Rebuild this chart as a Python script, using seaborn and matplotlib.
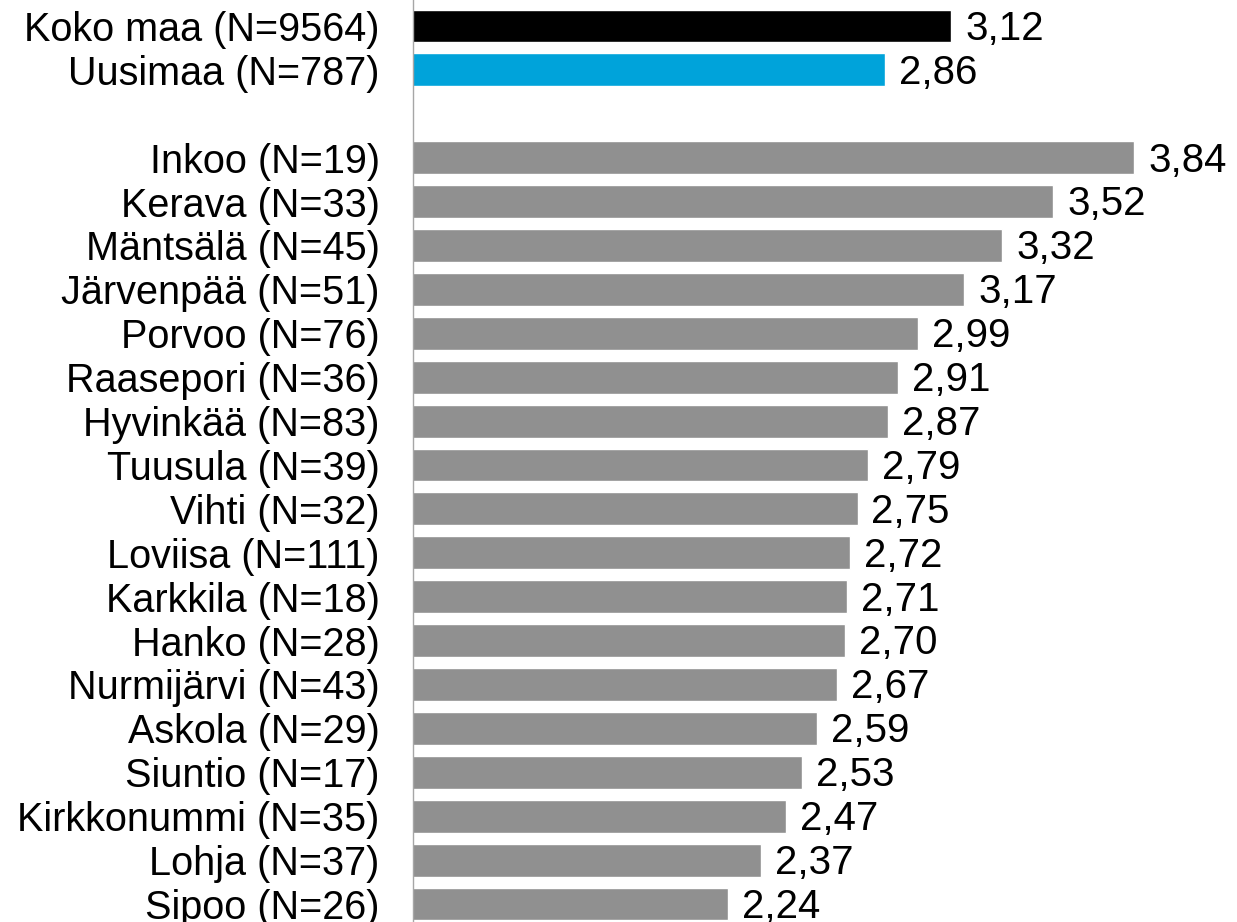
import matplotlib
matplotlib.use("Agg")
import matplotlib.pyplot as plt
import seaborn as sns
import pandas as pd

categories = ["Koko maa (N=9564)", "Uusimaa (N=787)", " ",
              "Inkoo (N=19)", "Kerava (N=33)", "Mäntsälä (N=45)", "Järvenpää (N=51)",
              "Porvoo (N=76)", "Raasepori (N=36)", "Hyvinkää (N=83)", "Tuusula (N=39)",
              "Vihti (N=32)", "Loviisa (N=111)", "Karkkila (N=18)", "Hanko (N=28)",
              "Nurmijärvi (N=43)", "Askola (N=29)", "Siuntio (N=17)", "Kirkkonummi (N=35)",
              "Lohja (N=37)", "Sipoo (N=26)"]
values = [3.12, 2.86, None,
          3.84, 3.52, 3.32, 3.17, 2.99, 2.91, 2.87, 2.79, 2.75, 2.72, 2.71, 2.70,
          2.67, 2.59, 2.53, 2.47, 2.37, 2.24]

sns.set_style("white")
plt.rcParams['font.family'] = ['Liberation Sans', 'DejaVu Sans']

df = pd.DataFrame({"cat": categories, "val": values}).dropna()
palette = {c: "#909090" for c in categories}
palette["Koko maa (N=9564)"] = "#000000"
palette["Uusimaa (N=787)"] = "#00A3DA"

FS_CAT = 28.5
FS_VAL = 29
fig = plt.figure(figsize=(12.37, 9.22), dpi=100)
W, H = 1237, 922
ax = fig.add_axes([413 / W, 0, (1175 - 413) / W, 1])
sns.barplot(data=df, x="val", y="cat", hue="cat", order=categories, palette=palette,
            orient="h", width=0.75, legend=False, ax=ax, saturation=1)

ax.set_xlim(1, 4.0)
ax.set_ylim(20.41, -0.592)
for s in ["top", "right", "bottom"]:
    ax.spines[s].set_visible(False)
ax.spines["left"].set_color("#A6A6A6")
ax.spines["left"].set_linewidth(1)
ax.set_xticks([])
ax.set_xlabel("")
ax.set_ylabel("")
ax.tick_params(axis="y", length=0, pad=24, labelsize=FS_CAT, labelcolor="black")

for i, (c, v) in enumerate(zip(categories, values)):
    if v is None:
        continue
    ax.annotate(f"{v:.2f}".replace(".", ","), xy=(v, i), xytext=(10, -10),
                textcoords="offset points", va="baseline", ha="left",
                fontsize=FS_VAL, color="black", annotation_clip=False)

fig.savefig("out.png", dpi=100)
